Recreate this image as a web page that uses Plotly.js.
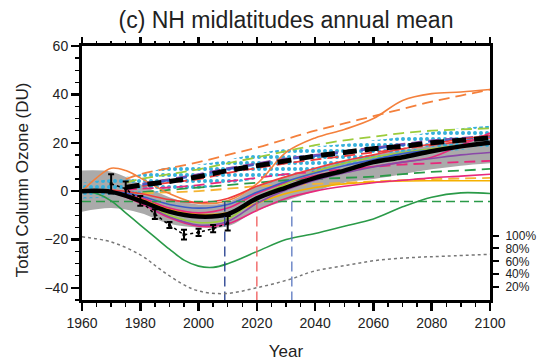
<!DOCTYPE html>
<html><head><meta charset="utf-8">
<script src="https://cdn.plot.ly/plotly-3.0.1.min.js"></script>
<style>html,body{margin:0;padding:0;background:#fff}#plot{width:548px;height:364px}</style>
</head><body><div id="plot"></div>
<script>
// ---------- data ----------
const yrs10 = [1960,1970,1980,1990,2000,2010,2020,2030,2040,2050,2060,2070,2080,2090,2100];
const yrsDash = [1975,1980,1990,2000,2010,2020,2030,2040,2050,2060,2070,2080,2090,2100];
const meanSolid = [0,-0.3,-4,-8.5,-10.5,-9.5,-3,1.5,5.5,8.5,12,14,16.5,18.5,20];
const grayUpper = [8.5,8,3,-2.5,-5.5,-4.5,2,6,9.5,12.5,15,17,19,20.5,21.5];
const grayLower = [-8.5,-7,-9,-13.5,-15,-14.5,-8,-4,0,3.5,5,7,9,10.5,11.5];
const meanDashed = [1.5,2.5,4,6,8.5,10.5,12.5,14.5,16,17.5,18.5,20,21,22];
const cyanUpper = [3.5,5,7,10,11,13,15.5,17.5,18.5,19.5,21,22.5,24.5,26,27];
const cyanLower = [-3,-2.5,-1,0,1,3,5,6.5,8.5,11,13,14.5,16,17,18];

const yrsOrange = [1960,1965,1970,1975,1980,1990,2000,2010,2020,2030,2040,2050,2060,2070,2080,2090,2100];
const orangeSolid = [0,5.5,9.5,8.5,5.5,-1,-5,-4,3,16,22,25.5,30,37.5,40.3,41,42];
const redSolid = [0,0.5,-1,-3.5,-4.7,-3,2,6,9.5,12.5,15,17.5,19.5,21.5,23];
const blueSolid = [0,0,-2,-5.5,-7,-5.5,-0.5,4,7.5,10.5,13,15.5,17,18.5,20];
const goldSolid = [0,-0.5,-3,-7.5,-9.5,-9,-5,-1,1.5,3,3.8,4.2,4.3,4.3,4.3];
const limeSolid = [0,-0.5,-4,-10,-13,-11.5,-3,3,8,11.5,14,16,17.5,19,20];
const purpleSolid = [0,-0.5,-4.5,-10.5,-14,-12.5,-5,0.5,4.5,7.5,10,12,13.5,15,16];
const pinkSolidLow = [0,-0.5,-5,-11,-14.5,-13.5,-8,-3,0,2,3.5,4.5,5.5,6.2,7];
const pinkSolidHigh = [0,0,-2.5,-7,-9,-7,-1,3.5,6.5,8.5,10.2,12,14,19,24];
const yrsGreen = [1960,1965,1970,1975,1980,1985,1990,1995,2000,2005,2010,2020,2030,2040,2050,2060,2070,2080,2090,2100];
const greenSolid = [0,-1,-4,-9,-14,-19,-24,-28.5,-31,-31.5,-30,-25,-20,-17.5,-14.5,-11.5,-6.5,-2.5,-0.7,-1];

const orangeDashed = [5,7,9.5,12,15,18,21.5,25,28,31,34,37,39.5,42];
const limeDashed = [3.5,5,7,9,11.5,14,16.5,19,21,22.5,24,25,25.5,26];
const redDashed = [1,2,3.5,5,7.5,9.5,11.5,13,14.5,16,17.5,19,20.5,22];
const blueDashed = [1.5,2.5,4.5,6.5,9,11,13,14.5,16,17.5,19,20.5,21.5,22.5];
const purpleDashed = [2,3,5,7,9.5,11.5,13.5,15,16.5,18,19.5,21,22,23];
const pinkDashed = [0.5,1,1.5,2.5,4,5.5,7,8,9,10,11,11.5,12,12.5];
const greenDashed = [-1,-0.5,0.5,1.5,2.5,3.5,4.5,5,5.5,6,7,8,8.5,9.2];
const goldDashed = [-1.5,-1,-0.5,0,1,2,2.5,3,3.5,4,4.5,5,5.2,5.5];

const refYears = [1960,2100];
const refLevel = [-4.3,-4.3];
const returnYears = [2009,2020,2032];
const returnColors = ['#1f3a8c','#f05a5a','#5a78c0'];

const obsYears = [1970,1975,1980,1985,1990,1995,2000,2005,2010];
const obsVals = [3,1,-4,-9.5,-14,-18,-17,-15.5,-13.3];
const obsErr = [4,3,2,2,1.2,2,1.5,1.5,3];

const yrsProb = [1960,1970,1980,1987,1994,2000,2009,2020,2032,2039,2051,2062,2074,2085,2100];
const probPct = [98,90,70,47,26,14,10,19,33,44,54,62,66,68,71];

const xTicks = [1960,1980,2000,2020,2040,2060,2080,2100];
const pctTicks = [20,40,60,80,100];
const pctLabels = ['20%','40%','60%','80%','100%'];

// ---------- traces ----------
const traces = [];
function line(x, y, color, width, dash, extra) {
  return Object.assign({x:x, y:y, type:'scatter', mode:'lines', hoverinfo:'skip', showlegend:false,
    line:{color:color, width:width, dash:dash||'solid', shape:'spline', smoothing:1}}, extra||{});
}
// gray band
traces.push(line(yrs10, grayUpper, 'rgba(0,0,0,0)', 0));
traces.push(line(yrs10, grayLower, 'rgba(0,0,0,0)', 0, 'solid', {fill:'tonexty', fillcolor:'#aaaaaa'}));
// cyan dotted band
traces.push(line(yrs10, cyanUpper, 'rgba(0,0,0,0)', 0));
traces.push(line(yrs10, cyanLower, 'rgba(0,0,0,0)', 0, 'solid', {fill:'tonexty', fillcolor:'rgba(0,0,0,0)',
  fillpattern:{shape:'.', fgcolor:'#34b0dc', bgcolor:'rgba(0,0,0,0)', size:6, solidity:0.35}}));
// dashed models
const dsh = '11px,6px';
[[orangeDashed,'#f4803c'],[limeDashed,'#9ccc3c'],[greenDashed,'#2a9a48'],[goldDashed,'#f5b432'],
 [pinkDashed,'#e8287c'],[redDashed,'#f03c3c'],[purpleDashed,'#8a48a8'],[blueDashed,'#3c5cc8']]
 .forEach(d => traces.push(line(yrsDash, d[0], d[1], 1.8, dsh)));
// solid models
traces.push(line(yrsOrange, orangeSolid, '#f4803c', 1.6));
traces.push(line(yrsGreen, greenSolid, '#2a9a48', 1.6));
[[goldSolid,'#f5b000'],[pinkSolidLow,'#e8287c'],[pinkSolidHigh,'#e8287c'],[purpleSolid,'#8a48a8'],
 [limeSolid,'#9ccc3c'],[blueSolid,'#3c5cc8'],[redSolid,'#f03c3c']]
 .forEach(d => traces.push(line(yrs10, d[0], d[1], 1.6)));
// reference level
traces.push({x:refYears, y:refLevel, type:'scatter', mode:'lines', hoverinfo:'skip', showlegend:false,
  line:{color:'#2a9a48', width:1.4, dash:'9px,5px'}});
// means
traces.push(line(yrs10, meanSolid, '#000000', 4.5));
traces.push(line(yrsDash, meanDashed, '#000000', 5, '14px,8px'));
// return-year verticals
returnYears.forEach((yr,i) => traces.push({x:[yr,yr], y:[refLevel[0],-45], type:'scatter', mode:'lines',
  hoverinfo:'skip', showlegend:false, line:{color:returnColors[i], width:1.3, dash:'10px,5px'}}));
// observations
traces.push({x:obsYears, y:obsVals, type:'scatter', mode:'lines+markers', hoverinfo:'skip', showlegend:false,
  line:{color:'#000', width:1.5, dash:'dot'}, marker:{color:'#000', size:3, symbol:'square'},
  error_y:{type:'data', array:obsErr, visible:true, color:'#000', thickness:2, width:3}});
// probability dotted line (right axis)
traces.push({x:yrsProb, y:probPct, xaxis:'x2', yaxis:'y2', type:'scatter', mode:'lines', hoverinfo:'skip', showlegend:false,
  line:{color:'#777', width:1.5, dash:'dot', shape:'spline', smoothing:1}});

const fnt = 'Liberation Sans, Arial, Helvetica, sans-serif';
const layout = {
  width:548, height:364,
  margin:{l:82, r:58, t:46, b:64},
  paper_bgcolor:'#fff', plot_bgcolor:'#fff',
  font:{family:fnt, color:'#222', size:14},
  title:{text:'(c) NH midlatitudes annual mean', font:{family:fnt, size:23, color:'#222'},
    x:0.5, xref:'paper', xanchor:'center', y:0.945, yref:'container', yanchor:'middle'},
  xaxis:{range:[1960,2100], tickvals:xTicks, ticks:'outside', ticklen:8, tickwidth:2.5, tickcolor:'#000',
    minor:{dtick:5, tick0:1960, ticks:'outside', ticklen:4, tickwidth:1.3, tickcolor:'#000'},
    showline:true, linewidth:3, linecolor:'#000', mirror:true, showgrid:false, zeroline:false,
    tickfont:{size:14, family:fnt, color:'#222'},
    title:{text:'Year', font:{size:17, family:fnt, color:'#222'}, standoff:16}},
  xaxis2:{range:[1960,2100], overlaying:'x', side:'top', anchor:'y', tickvals:xTicks, ticks:'outside', ticklen:8, tickwidth:2.5,
    tickcolor:'#000', showticklabels:false, showline:false, showgrid:false, zeroline:false,
    minor:{dtick:5, tick0:1960, ticks:'outside', ticklen:4, tickwidth:1.3, tickcolor:'#000'}},
  yaxis:{range:[-45,60], tick0:-40, dtick:20, ticks:'outside', ticklen:8, tickwidth:2.5, tickcolor:'#000',
    minor:{dtick:5, tick0:0, ticks:'outside', ticklen:4, tickwidth:1.3, tickcolor:'#000'},
    showline:true, linewidth:3, linecolor:'#000', mirror:true, showgrid:false, zeroline:false,
    tickfont:{size:14, family:fnt, color:'#222'}},
  yaxis2:{range:[0,394], overlaying:'y', side:'right', tickvals:pctTicks, ticktext:pctLabels,
    ticks:'outside', ticklen:8, tickwidth:2, tickcolor:'#000', showline:false, showgrid:false, zeroline:false,
    ticklabelstandoff:4, tickfont:{size:12, family:fnt, color:'#222'}},
  annotations:[{text:'Total Column Ozone (DU)', textangle:-90, xref:'paper', yref:'paper',
    x:-0.147, y:0.472, xanchor:'center', yanchor:'middle', showarrow:false,
    font:{size:17, family:fnt, color:'#222'}}]
};
Plotly.newPlot('plot', traces, layout, {displayModeBar:false, staticPlot:true});
</script></body></html>
